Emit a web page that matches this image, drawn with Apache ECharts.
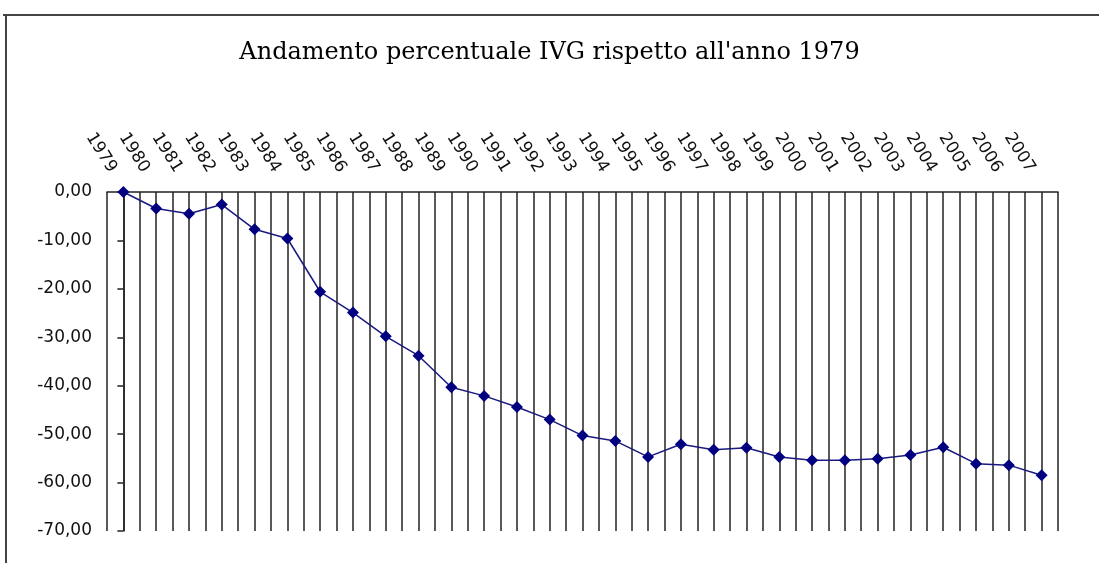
<!DOCTYPE html>
<html>
<head>
<meta charset="utf-8">
<script src="https://cdn.jsdelivr.net/npm/echarts@6/dist/echarts.min.js"></script>
<style>
html,body{margin:0;padding:0;background:#fff;}
#chart{width:1099px;height:563px;}
</style>
</head>
<body>
<div id="chart"></div>
<script>
const titleText = "Andamento percentuale IVG rispetto all'anno 1979";
const years = ['1979','1980','1981','1982','1983','1984','1985','1986','1987','1988','1989','1990','1991','1992','1993','1994','1995','1996','1997','1998','1999','2000','2001','2002','2003','2004','2005','2006','2007'];
const values = [0, -3.4, -4.5, -2.6, -7.7, -9.6, -20.6, -24.9, -29.8, -33.8, -40.3, -42.1, -44.4, -47.0, -50.3, -51.4, -54.7, -52.1, -53.2, -52.8, -54.7, -55.4, -55.4, -55.1, -54.3, -52.7, -56.1, -56.4, -58.5];
const yTicks = { min: -70, max: 0, interval: 10 };

const seriesData = values.map((v, i) => [i, v]);

const chart = echarts.init(document.getElementById('chart'), null, { renderer: 'canvas' });
chart.setOption({
  backgroundColor: '#fff',
  animation: false,
  title: {
    text: titleText,
    left: 'center',
    top: 36,
    textStyle: { fontFamily: 'DejaVu Serif', fontSize: 24, fontWeight: 'normal', color: '#000' }
  },
  graphic: [
    { type: 'line', shape: { x1: 3, y1: 15, x2: 1099, y2: 15 }, style: { stroke: '#444', lineWidth: 2 } },
    { type: 'line', shape: { x1: 6, y1: 14, x2: 6, y2: 563 }, style: { stroke: '#444', lineWidth: 2 } }
  ],
  grid: { left: 107, right: 41, top: 192, bottom: 32, containLabel: false },
  xAxis: {
    type: 'value',
    position: 'top',
    min: -0.5,
    max: years.length - 0.5,
    interval: 0.5,
    axisLine: { show: true, onZero: false, lineStyle: { color: '#222', width: 1.5 } },
    axisTick: { show: false },
    splitLine: { show: true, lineStyle: { color: '#222', width: 1.5 } },
    axisLabel: {
      rotate: 58,
      margin: 4,
      padding: [0, 20, 0, 0],
      fontFamily: 'DejaVu Sans',
      fontSize: 17,
      color: '#111',
      showMinLabel: true,
      showMaxLabel: true,
      hideOverlap: false,
      formatter: function (v) {
        return Number.isInteger(v) && years[v] ? years[v] : '';
      }
    }
  },
  yAxis: {
    type: 'value',
    min: yTicks.min,
    max: yTicks.max,
    interval: yTicks.interval,
    axisLine: { show: true, lineStyle: { color: '#222', width: 1.5 } },
    axisTick: { show: true, inside: false, length: 6, lineStyle: { color: '#222', width: 1.5 } },
    splitLine: { show: false },
    axisLabel: {
      margin: 15,
      fontFamily: 'DejaVu Sans',
      fontSize: 17,
      color: '#111',
      formatter: function (v) { return v.toFixed(2).replace('.', ','); }
    }
  },
  series: [{
    type: 'line',
    data: seriesData,
    symbol: 'diamond',
    symbolSize: 12,
    lineStyle: { color: '#1a1a80', width: 1.5 },
    itemStyle: { color: '#000080' }
  }]
});
</script>
</body>
</html>
